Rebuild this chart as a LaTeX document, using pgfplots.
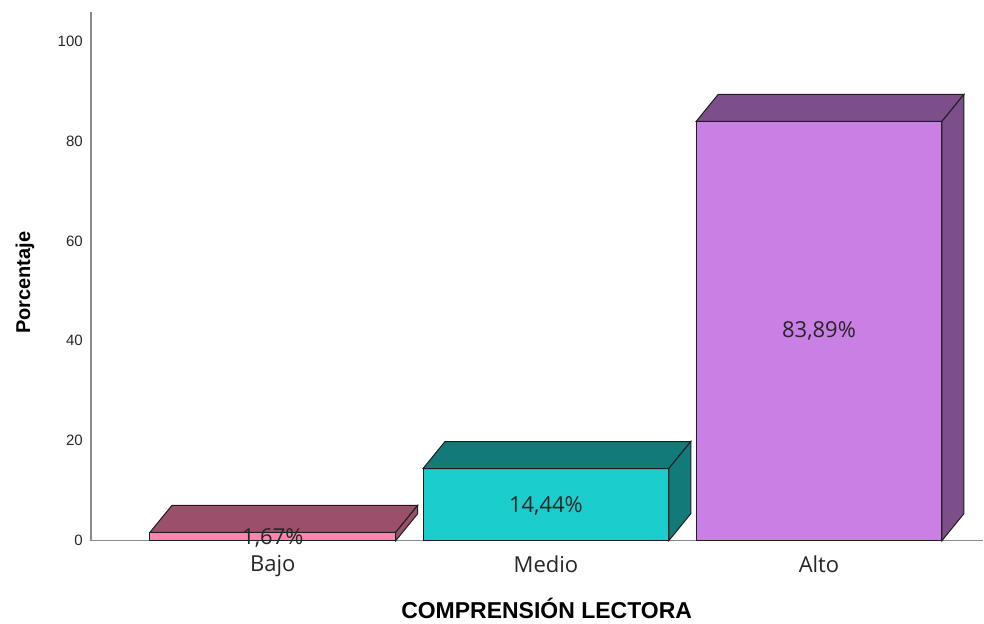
\documentclass[border=0pt]{standalone}
\usepackage{fontspec}
\setmainfont{Liberation Sans}
\newfontfamily\catfont{Open Sans}
\usepackage{pgfplots}
\pgfplotsset{compat=1.18}

\definecolor{bajoF}{HTML}{FF82B0}
\definecolor{bajoD}{HTML}{9B4F6A}
\definecolor{medioF}{HTML}{1CCDCD}
\definecolor{medioD}{HTML}{127B79}
\definecolor{altoF}{HTML}{C97FE4}
\definecolor{altoD}{HTML}{7C4E8A}
\definecolor{axisgray}{HTML}{8A8A8A}
\definecolor{edge}{HTML}{1E1E1E}

\begin{document}
\begin{tikzpicture}
\begin{axis}[
  scale only axis,
  width=893bp, height=529bp,
  xmin=-0.6661, xmax=2.602,
  ymin=0, ymax=105.8,
  axis x line=bottom, axis y line=left,
  axis line style={-, draw=axisgray, line width=1.2bp},
  major tick length=0pt,
  xtick={0,1,2},
  xticklabels={Bajo,Medio,Alto},
  ytick={0,20,40,60,80,100},
  /pgf/number format/assume math mode=true,
  yticklabel style={font=\fontsize{15bp}{18bp}\selectfont, inner sep=0pt, xshift=-8bp, text=black!85},
  xticklabel style={font=\catfont\fontsize{22bp}{26bp}\selectfont, inner sep=0pt, yshift=-15bp, text=black!85},
  xlabel={COMPRENSIÓN LECTORA},
  ylabel={Porcentaje},
  xlabel style={font=\bfseries\fontsize{23bp}{27bp}\selectfont, at={(axis description cs:0.5106,0)}, anchor=center, yshift=-68bp},
  ylabel style={font=\bfseries\fontsize{20bp}{24bp}\selectfont, at={(axis description cs:-0.0739,0.4877)}, anchor=center},
  clip=false,
]
\coordinate (o) at (rel axis cs:0,0);
% front faces
\addplot[ybar, bar width=0.9, bar shift=0pt, fill=bajoF, draw=edge, line width=1bp] coordinates {(0,1.67)};
\addplot[ybar, bar width=0.9, bar shift=0pt, fill=medioF, draw=edge, line width=1bp] coordinates {(1,14.44)};
\addplot[ybar, bar width=0.9, bar shift=0pt, fill=altoF, draw=edge, line width=1bp] coordinates {(2,83.89)};
% top faces
\addplot[fill=bajoD, draw=edge, line width=1bp] coordinates {(-0.45,1.67) (-0.3695,7.07) (0.5305,7.07) (0.45,1.67)} -- cycle;
\addplot[fill=medioD, draw=edge, line width=1bp] coordinates {(0.55,14.44) (0.6305,19.84) (1.5305,19.84) (1.45,14.44)} -- cycle;
\addplot[fill=altoD, draw=edge, line width=1bp] coordinates {(1.55,83.89) (1.6305,89.29) (2.5305,89.29) (2.45,83.89)} -- cycle;
% side faces
\addplot[fill=bajoD, draw=edge, line width=1bp] coordinates {(0.45,0) (0.5305,5.4) (0.5305,7.07) (0.45,1.67)} -- cycle;
\addplot[fill=medioD, draw=edge, line width=1bp] coordinates {(1.45,0) (1.5305,5.4) (1.5305,19.84) (1.45,14.44)} -- cycle;
\addplot[fill=altoD, draw=edge, line width=1bp] coordinates {(2.45,0) (2.5305,5.4) (2.5305,89.29) (2.45,83.89)} -- cycle;
% value labels
\addplot[draw=none, point meta=explicit symbolic, nodes near coords, nodes near coords align=center,
  every node near coord/.append style={font=\catfont\fontsize{22bp}{26bp}\selectfont, text=black!85, inner sep=0pt}]
  coordinates {(0,0.6)[1,67\%] (1,7.0)[14,44\%] (2,42.0)[83,89\%]};
\end{axis}
\path (o) ++(-91bp,-83bp) rectangle ++(984bp,624bp);
\end{tikzpicture}
\end{document}
